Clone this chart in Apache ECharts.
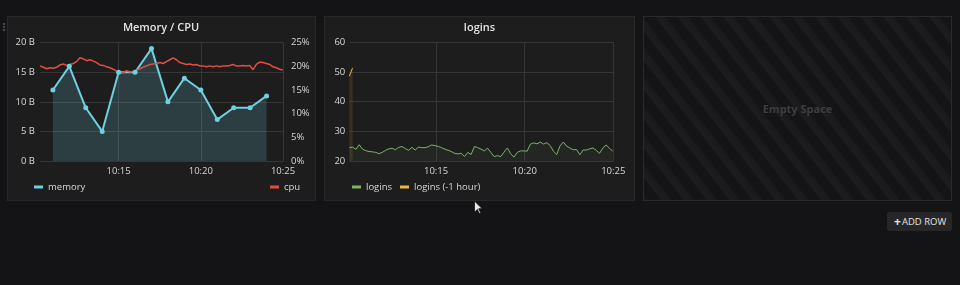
<!DOCTYPE html>
<html><head><meta charset="utf-8">
<script src="https://cdn.jsdelivr.net/npm/echarts@6/dist/echarts.min.js"></script>
<style>
html,body{margin:0;padding:0;background:#141416;width:960px;height:285px;overflow:hidden;font-family:'Open Sans',sans-serif;}
.panel{position:absolute;background:#1e1d1e;border:1px solid #28282a;box-sizing:border-box;}
#p1{left:7px;top:16px;width:309px;height:185px;}
#p2{left:324px;top:16px;width:311px;height:185px;}
#p3{left:643px;top:16px;width:309px;height:185px;border-color:#2a2a2c;
  background:repeating-linear-gradient(-128deg,#141416 0px,#141416 8px,#1a1a1c 10px,#1d1d1f 16px,#141416 18px);}
#empty{position:absolute;left:643px;top:16px;width:309px;height:185px;display:flex;align-items:center;justify-content:center;color:#3d3d3f;font-weight:700;font-size:11px;}
#btn{position:absolute;left:887px;top:212px;width:65px;height:19px;background:#27272a;border-radius:3px;color:#e4e4e4;font-size:9.5px;line-height:19px;box-sizing:border-box;padding-left:7px;white-space:nowrap;}
#btn b{font-size:12px;margin-right:1px;vertical-align:top;}
.dot{position:absolute;left:3px;width:2px;height:2px;background:#4a4a4c;}
#chart{position:absolute;left:0;top:0;width:960px;height:285px;}
</style></head>
<body>
<div class="panel" id="p1"></div>
<div class="panel" id="p2"></div>
<div class="panel" id="p3"></div>
<div id="empty">Empty Space</div>
<div id="btn"><b>+</b>ADD ROW</div>
<div class="dot" style="top:23px"></div>
<div class="dot" style="top:26px"></div>
<div class="dot" style="top:29px"></div>
<div id="chart"></div>
<script>
// ---- data (x in seconds after 10:00:00) ----
const memoryMinutes = [11,12,13,14,15,16,17,18,19,20,21,22,23,24];
const memoryValues = [12,16,9,5,15,15,19,10,14,12,7,9,9,11];
const cpuStartSec = 613;
const cpuStepSec = 12.15;
const cpuValues = [20.1,19.8,19.5,19.7,19.6,19.8,20.3,20.5,20.2,20.4,20.6,21.0,21.8,21.6,21.2,21.4,21.1,20.8,20.3,20.2,19.9,19.7,19.4,19.0,18.7,18.6,19.1,18.8,18.9,19.2,19.5,19.8,20.1,20.4,20.5,20.6,20.8,20.6,
  21.0,21.4,21.8,21.4,20.8,20.6,20.4,20.5,20.3,20.4,20.1,20.1,19.9,20.1,19.9,20.1,19.9,20.1,20.1,20.2,20.4,20.1,20.1,20.2,20.1,20.2,19.3,20.4,20.9,20.8,20.6,20.4,19.9,19.7,19.4,19.2];
const loginsStartSec = 606;
const loginsStepSec = 11.15;
const loginsValues = [24.5,24.7,23.9,25.5,24.0,23.5,23.2,23.1,22.9,22.5,
  22.9,23.6,24.1,24.3,23.8,24.6,24.9,24.2,23.6,24.6,
  23.7,24.7,24.5,24.5,24.8,25.4,25.2,24.9,24.5,24.0,
  23.6,23.2,22.6,22.4,22.6,21.5,22.9,22.2,24.9,24.5,
  24.0,23.4,24.3,22.9,21.5,21.8,21.5,23.0,24.4,22.5,
  21.3,22.9,23.4,23.4,23.3,25.7,26.1,25.8,26.4,25.7,
  26.2,25.2,23.3,22.2,25.1,26.4,25.0,24.4,23.8,23.9,
  22.1,23.7,23.7,24.1,24.4,23.6,22.6,24.4,25.4,24.3,
  23.3];
const loginsPrevValues = [48.6, 51.4];
const timeTickSec = [900, 1200, 1500];
const memoryRange = [613, 1500];
const loginsRange = [606, 1500];

const TXT = '#d6d7d8';
const GRID = '#363637';
const FONT = 'Open Sans';
const FS = 9.5;

function timeLabel(v){ return '10:' + String(Math.round(v/60)).padStart(2,'0'); }

function xAxis(gridIndex, range){
  return {
    type:'value', gridIndex, min:range[0], max:range[1],
    axisLine:{show:false},
    axisTick:{show:false, customValues:timeTickSec},
    axisLabel:{customValues:timeTickSec, formatter:timeLabel, color:TXT, fontSize:FS, fontFamily:FONT, margin:5, showMinLabel:true, showMaxLabel:true},
    splitLine:{show:true, lineStyle:{color:GRID, width:1}}
  };
}
const legendText = {color:TXT, fontSize:FS, fontFamily:FONT};

const chart = echarts.init(document.getElementById('chart'), null, {renderer:'canvas'});
chart.setOption({
  backgroundColor:'transparent',
  animation:false,
  textStyle:{fontFamily:FONT},
  grid:[
    {left:40, top:42.7, width:243, height:118.3},
    {left:349.3, top:42.3, width:264, height:118.7}
  ],
  xAxis:[ xAxis(0, memoryRange), xAxis(1, loginsRange) ],
  yAxis:[
    {type:'value', gridIndex:0, min:0, max:20, interval:5, position:'left',
     axisLine:{show:false}, axisTick:{show:false},
     axisLabel:{formatter:v=>v+' B', color:TXT, fontSize:FS, fontFamily:FONT, margin:5},
     splitLine:{lineStyle:{color:GRID}}},
    {type:'value', gridIndex:0, min:0, max:25, interval:5, position:'right',
     axisLine:{show:false}, axisTick:{show:false},
     axisLabel:{formatter:v=>v+'%', color:TXT, fontSize:FS, fontFamily:FONT, margin:8},
     splitLine:{show:false}},
    {type:'value', gridIndex:1, min:20, max:60, interval:10,
     axisLine:{show:false}, axisTick:{show:false},
     axisLabel:{color:TXT, fontSize:FS, fontFamily:FONT, margin:4},
     splitLine:{lineStyle:{color:GRID}}}
  ],
  legend:[
    {data:['memory'], left:34, top:182, icon:'rect', itemWidth:9, itemHeight:3, textStyle:legendText, selectedMode:false, padding:0},
    {data:['cpu'], left:270, top:182, icon:'rect', itemWidth:9, itemHeight:3, textStyle:legendText, selectedMode:false, padding:0},
    {data:['logins','logins (-1 hour)'], left:352, top:182, icon:'rect', itemWidth:9, itemHeight:3, itemGap:8, textStyle:legendText, selectedMode:false, padding:0}
  ],
  graphic:[
    {type:'text', x:161, y:28, silent:true, style:{text:'Memory / CPU', fill:'#e2e3e4', font:'600 11px "Open Sans"', textAlign:'center', textVerticalAlign:'middle'}},
    {type:'text', x:479.5, y:28, silent:true, style:{text:'logins', fill:'#e2e3e4', font:'600 11px "Open Sans"', textAlign:'center', textVerticalAlign:'middle'}},
    {type:'polygon', silent:true, shape:{points:[[474.5,201],[474.5,212.2],[477.3,209.4],[479.4,213.6],[480.8,212.9],[478.7,208.7],[482.2,208.7]]},
     style:{fill:'#e8e8e8', stroke:'#111', lineWidth:0.8}, z:100}
  ],
  series:[
    {name:'memory', type:'line', xAxisIndex:0, yAxisIndex:0,
     data:memoryMinutes.map((m,i)=>[m*60, memoryValues[i]]),
     symbol:'circle', symbolSize:5, showSymbol:true,
     lineStyle:{color:'#6ed0e0', width:2}, itemStyle:{color:'#6ed0e0'},
     areaStyle:{color:'rgba(110,208,224,0.27)'}, emphasis:{disabled:true}},
    {name:'cpu', type:'line', xAxisIndex:0, yAxisIndex:1,
     data:cpuValues.map((v,i)=>[cpuStartSec + i*cpuStepSec, v]),
     symbol:'none', showSymbol:false,
     lineStyle:{color:'#e24d42', width:1.5}, itemStyle:{color:'#e24d42'}, emphasis:{disabled:true}},
    {name:'logins', type:'line', xAxisIndex:1, yAxisIndex:2,
     data:loginsValues.map((v,i)=>[loginsStartSec + i*loginsStepSec, v]),
     symbol:'none', showSymbol:false,
     lineStyle:{color:'#7eb26d', width:1}, itemStyle:{color:'#7eb26d'},
     areaStyle:{color:'rgba(126,178,109,0.09)'}, emphasis:{disabled:true}},
    {name:'logins (-1 hour)', type:'line', xAxisIndex:1, yAxisIndex:2,
     data:loginsPrevValues.map((v,i)=>[loginsStartSec + i*loginsStepSec, v]),
     symbol:'none', showSymbol:false,
     lineStyle:{color:'#eab839', width:1}, itemStyle:{color:'#eab839'},
     areaStyle:{color:'rgba(234,184,57,0.18)'}, emphasis:{disabled:true}}
  ]
});
</script>
</body></html>
